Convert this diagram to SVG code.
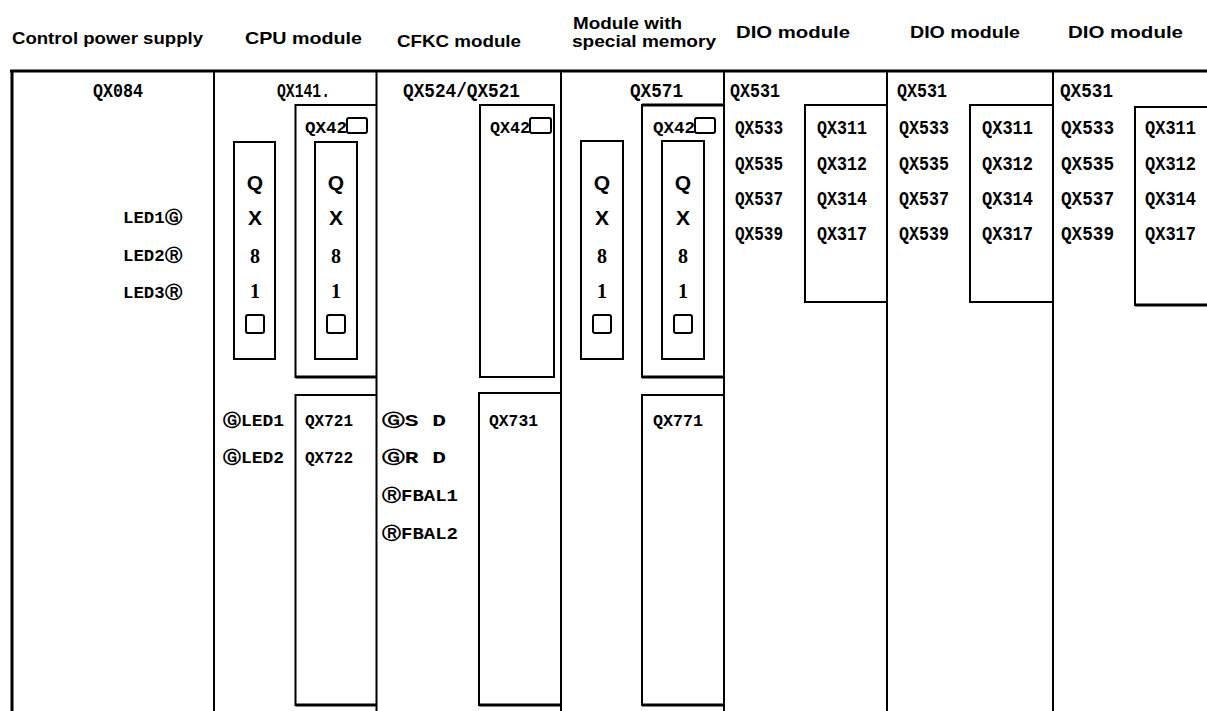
<svg xmlns="http://www.w3.org/2000/svg" width="1207" height="711" viewBox="0 0 1207 711">
<style>
.hd{font-family:"Liberation Sans",Arial,sans-serif;font-weight:bold;font-size:17px;fill:#000}
.cd{font-family:"Liberation Mono","DejaVu Sans Mono",monospace;font-weight:bold;font-size:21px;fill:#000}
.sm{font-family:"Liberation Mono","DejaVu Sans",monospace;font-weight:bold;font-size:17px;fill:#000}
.ql{font-family:"Liberation Sans",Arial,sans-serif;font-weight:bold;font-size:21px;fill:#000;text-anchor:middle}
.nl{font-family:"Liberation Serif","Times New Roman",serif;font-weight:bold;font-size:20px;fill:#000;text-anchor:middle}
.ln{fill:none;stroke:#000;stroke-width:2}
.tk{fill:none;stroke:#000;stroke-width:3}
.sq{fill:none;stroke:#000;stroke-width:2}
</style>
<rect width="1207" height="711" fill="#fff"/>

<g id="headers">
<text class="hd" x="12" y="44" textLength="191" lengthAdjust="spacingAndGlyphs">Control power supply</text>
<text class="hd" x="245" y="44" textLength="117" lengthAdjust="spacingAndGlyphs">CPU module</text>
<text class="hd" x="397" y="47" textLength="124" lengthAdjust="spacingAndGlyphs">CFKC module</text>
<text class="hd" x="573" y="29" textLength="109" lengthAdjust="spacingAndGlyphs">Module with</text>
<text class="hd" x="572" y="47" textLength="144" lengthAdjust="spacingAndGlyphs">special memory</text>
<text class="hd" x="736" y="38" textLength="114" lengthAdjust="spacingAndGlyphs">DIO module</text>
<text class="hd" x="910" y="38" textLength="110" lengthAdjust="spacingAndGlyphs">DIO module</text>
<text class="hd" x="1068" y="38" textLength="115" lengthAdjust="spacingAndGlyphs">DIO module</text>
</g>

<g id="connectors">
<line class="tk" x1="10" y1="71" x2="1207" y2="71"/>
<line class="tk" x1="12" y1="70" x2="12" y2="711"/>
<line class="ln" x1="214" y1="71" x2="214" y2="711"/>
<line class="ln" x1="376.5" y1="71" x2="376.5" y2="711"/>
<line class="ln" x1="561" y1="71" x2="561" y2="711"/>
<line class="ln" x1="724" y1="71" x2="724" y2="711"/>
<line class="ln" x1="887" y1="71" x2="887" y2="711"/>
<line class="ln" x1="1053" y1="71" x2="1053" y2="711"/>
</g>

<g id="power-supply">
<text class="cd" x="93" y="97" textLength="50" lengthAdjust="spacingAndGlyphs">QX084</text>
<text class="sm" x="123" y="223" textLength="59" lengthAdjust="spacingAndGlyphs">LED1Ⓖ</text>
<text class="sm" x="123" y="261" textLength="59" lengthAdjust="spacingAndGlyphs">LED2Ⓡ</text>
<text class="sm" x="123" y="298" textLength="59" lengthAdjust="spacingAndGlyphs">LED3Ⓡ</text>
</g>

<g id="cpu-module">
<text class="cd" x="277" y="97" textLength="53" lengthAdjust="spacingAndGlyphs">QX141.</text>
<path class="ln" d="M376.5,105 H295.5 V377 H376.5"/>
<line class="tk" x1="295.5" y1="377" x2="376.5" y2="377"/>
<text class="sm" x="305" y="133" textLength="42" lengthAdjust="spacingAndGlyphs">QX42</text>
<rect class="sq" x="347" y="118" width="20" height="15" rx="2"/>
<rect class="ln" x="234" y="142" width="41" height="217"/>
<rect class="ln" x="315" y="142" width="42" height="217"/>
<text class="ql" x="255" y="190">Q</text>
<text class="ql" x="255" y="225">X</text>
<text class="nl" x="255" y="263">8</text>
<text class="nl" x="255" y="298">1</text>
<rect class="sq" x="246" y="315" width="18" height="18" rx="2"/>
<text class="ql" x="336" y="190">Q</text>
<text class="ql" x="336" y="225">X</text>
<text class="nl" x="336" y="263">8</text>
<text class="nl" x="336" y="298">1</text>
<rect class="sq" x="327" y="315" width="18" height="18" rx="2"/>
<path class="ln" d="M376.5,395 H295.5 V705 H376.5"/>
<line class="tk" x1="295.5" y1="705" x2="376.5" y2="705"/>
<text class="sm" x="223" y="426" textLength="61" lengthAdjust="spacingAndGlyphs">ⒼLED1</text>
<text class="sm" x="223" y="463" textLength="61" lengthAdjust="spacingAndGlyphs">ⒼLED2</text>
<text class="sm" x="305" y="426" textLength="48" lengthAdjust="spacingAndGlyphs">QX721</text>
<text class="sm" x="305" y="463" textLength="48" lengthAdjust="spacingAndGlyphs">QX722</text>
</g>

<g id="cfkc-module">
<text class="cd" x="403" y="97" textLength="117" lengthAdjust="spacingAndGlyphs">QX524/QX521</text>
<rect class="ln" x="480" y="105" width="74" height="272"/>
<text class="sm" x="490" y="133" textLength="40" lengthAdjust="spacingAndGlyphs">QX42</text>
<rect class="sq" x="530" y="118" width="21" height="15" rx="2"/>
<path class="ln" d="M561,393 H479 V705 H561"/>
<line class="tk" x1="479" y1="705" x2="561" y2="705"/>
<text class="sm" x="382" y="426" textLength="64" lengthAdjust="spacingAndGlyphs">ⒼS D</text>
<text class="sm" x="382" y="463" textLength="64" lengthAdjust="spacingAndGlyphs">ⒼR D</text>
<text class="sm" x="382" y="501" textLength="76" lengthAdjust="spacingAndGlyphs">ⓇFBAL1</text>
<text class="sm" x="382" y="539" textLength="76" lengthAdjust="spacingAndGlyphs">ⓇFBAL2</text>
<text class="sm" x="489" y="426" textLength="49" lengthAdjust="spacingAndGlyphs">QX731</text>
</g>

<g id="special-memory-module">
<text class="cd" x="630" y="97" textLength="53" lengthAdjust="spacingAndGlyphs">QX571</text>
<path class="ln" d="M724,105 H642 V377 H724"/>
<line class="tk" x1="642" y1="105" x2="724" y2="105"/>
<line class="tk" x1="642" y1="377" x2="724" y2="377"/>
<text class="sm" x="653" y="133" textLength="42" lengthAdjust="spacingAndGlyphs">QX42</text>
<rect class="sq" x="695" y="118" width="20" height="15" rx="2"/>
<rect class="ln" x="581" y="141" width="42" height="218"/>
<rect class="ln" x="662" y="141" width="42" height="218"/>
<text class="ql" x="602" y="190">Q</text>
<text class="ql" x="602" y="225">X</text>
<text class="nl" x="602" y="263">8</text>
<text class="nl" x="602" y="298">1</text>
<rect class="sq" x="593" y="315" width="18" height="18" rx="2"/>
<text class="ql" x="683" y="190">Q</text>
<text class="ql" x="683" y="225">X</text>
<text class="nl" x="683" y="263">8</text>
<text class="nl" x="683" y="298">1</text>
<rect class="sq" x="674" y="315" width="18" height="18" rx="2"/>
<path class="ln" d="M724,395 H642 V705 H724"/>
<line class="tk" x1="642" y1="705" x2="724" y2="705"/>
<text class="sm" x="653" y="426" textLength="50" lengthAdjust="spacingAndGlyphs">QX771</text>
</g>

<g id="dio-module-1">
<text class="cd" x="730" y="97" textLength="50" lengthAdjust="spacingAndGlyphs">QX531</text>
<path class="ln" d="M887,105 H805 V302 H887"/>
<text class="cd" x="735" y="134" textLength="48" lengthAdjust="spacingAndGlyphs">QX533</text>
<text class="cd" x="735" y="170" textLength="48" lengthAdjust="spacingAndGlyphs">QX535</text>
<text class="cd" x="735" y="205" textLength="48" lengthAdjust="spacingAndGlyphs">QX537</text>
<text class="cd" x="735" y="240" textLength="48" lengthAdjust="spacingAndGlyphs">QX539</text>
<text class="cd" x="817" y="134" textLength="50" lengthAdjust="spacingAndGlyphs">QX311</text>
<text class="cd" x="817" y="170" textLength="50" lengthAdjust="spacingAndGlyphs">QX312</text>
<text class="cd" x="817" y="205" textLength="50" lengthAdjust="spacingAndGlyphs">QX314</text>
<text class="cd" x="817" y="240" textLength="50" lengthAdjust="spacingAndGlyphs">QX317</text>
</g>

<g id="dio-module-2">
<text class="cd" x="897" y="97" textLength="50" lengthAdjust="spacingAndGlyphs">QX531</text>
<path class="ln" d="M1053,105 H970 V302 H1053"/>
<text class="cd" x="899" y="134" textLength="50" lengthAdjust="spacingAndGlyphs">QX533</text>
<text class="cd" x="899" y="170" textLength="50" lengthAdjust="spacingAndGlyphs">QX535</text>
<text class="cd" x="899" y="205" textLength="50" lengthAdjust="spacingAndGlyphs">QX537</text>
<text class="cd" x="899" y="240" textLength="50" lengthAdjust="spacingAndGlyphs">QX539</text>
<text class="cd" x="982" y="134" textLength="51" lengthAdjust="spacingAndGlyphs">QX311</text>
<text class="cd" x="982" y="170" textLength="51" lengthAdjust="spacingAndGlyphs">QX312</text>
<text class="cd" x="982" y="205" textLength="51" lengthAdjust="spacingAndGlyphs">QX314</text>
<text class="cd" x="982" y="240" textLength="51" lengthAdjust="spacingAndGlyphs">QX317</text>
</g>

<g id="dio-module-3">
<text class="cd" x="1060" y="97" textLength="53" lengthAdjust="spacingAndGlyphs">QX531</text>
<path class="ln" d="M1207,107 H1135 V305 H1207"/>
<line class="tk" x1="1135" y1="305" x2="1207" y2="305"/>
<text class="cd" x="1061" y="134" textLength="53" lengthAdjust="spacingAndGlyphs">QX533</text>
<text class="cd" x="1061" y="170" textLength="53" lengthAdjust="spacingAndGlyphs">QX535</text>
<text class="cd" x="1061" y="205" textLength="53" lengthAdjust="spacingAndGlyphs">QX537</text>
<text class="cd" x="1061" y="240" textLength="53" lengthAdjust="spacingAndGlyphs">QX539</text>
<text class="cd" x="1145" y="134" textLength="51" lengthAdjust="spacingAndGlyphs">QX311</text>
<text class="cd" x="1145" y="170" textLength="51" lengthAdjust="spacingAndGlyphs">QX312</text>
<text class="cd" x="1145" y="205" textLength="51" lengthAdjust="spacingAndGlyphs">QX314</text>
<text class="cd" x="1145" y="240" textLength="51" lengthAdjust="spacingAndGlyphs">QX317</text>
</g>
</svg>
